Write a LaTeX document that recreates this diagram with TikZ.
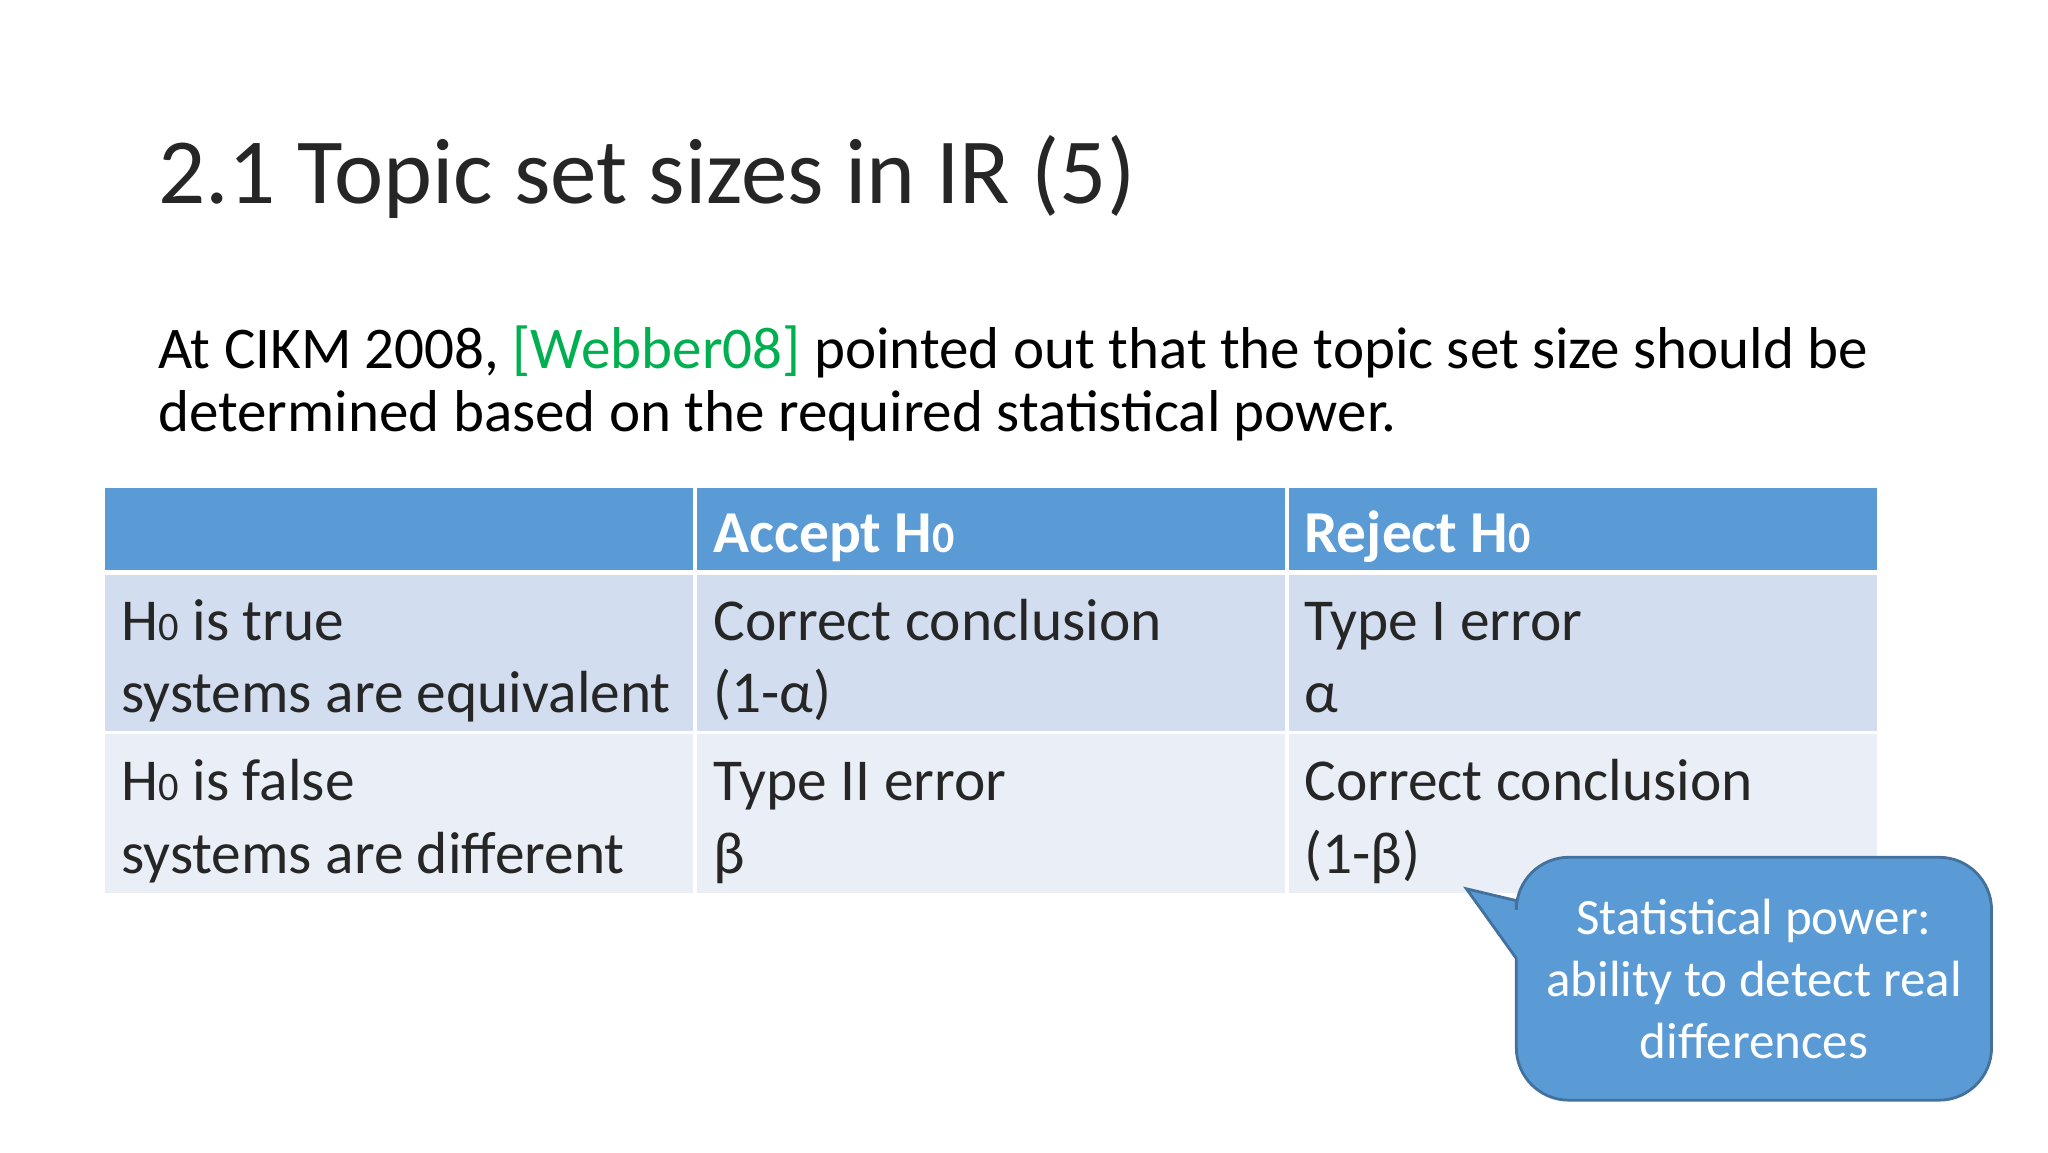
\documentclass[tikz,border=0pt]{standalone}
\usepackage{fontspec}
\setmainfont{Carlito}
\definecolor{hdr}{HTML}{5B9BD5}
\definecolor{rowa}{HTML}{D2DEEF}
\definecolor{rowb}{HTML}{EAEFF7}
\definecolor{cite}{HTML}{00B050}
\definecolor{cbord}{HTML}{41719C}
\newcommand{\Hz}{H{\fontsize{11.5}{12}\selectfont 0}}
\newcommand{\Hzb}{H{\fontsize{12.5}{13}\selectfont 0}}
\begin{document}
\begin{tikzpicture}[x=0.013128cm,y=-0.013128cm,
  txt/.style={anchor=base west,inner sep=0pt,font=\fontsize{16.9}{17}\selectfont,text=black!85},
  htxt/.style={anchor=base west,inner sep=0pt,font=\fontsize{16.9}{17}\selectfont\bfseries,text=white},
  ctxt/.style={anchor=base,inner sep=0pt,font=\fontsize{14.5}{15}\selectfont,text=white}]
\useasboundingbox[fill=white] (0,0) rectangle (1560,877.5);
\node[anchor=base west,inner sep=0pt,font=\fontsize{26.5}{27}\selectfont,text=black!85] (title) at (120,155) {2.1 Topic set sizes in IR (5)};
\node[anchor=base west,inner sep=0pt,font=\fontsize{16.8}{17}\selectfont] (b1) at (120,281) {At CIKM 2008, \textcolor{cite}{[Webber08]} pointed out that the topic set size should be};
\node[anchor=base west,inner sep=0pt,font=\fontsize{16.8}{17}\selectfont] (b2) at (120,329) {determined based on the required statistical power.};
% table
\fill[hdr] (80,372) rectangle (1430,436);
\fill[rowa] (80,436) rectangle (1430,558);
\fill[rowb] (80,558) rectangle (1430,680);
\draw[white,line width=1.2pt] (80,436) -- (1430,436);
\draw[white,line width=0.8pt] (80,558) -- (1430,558);
\draw[white,line width=1.2pt] (529.5,372) -- (529.5,680) (980.5,372) -- (980.5,680);
\node[htxt] (h1) at (543,421) {Accept \Hzb};
\node[htxt] (h2) at (993,421) {Reject \Hzb};
\node[txt] (a1) at (92,488) {\Hz{} is true};
\node[txt] (a2) at (92,543) {systems are equivalent};
\node[txt] (a3) at (543,488) {Correct conclusion};
\node[txt] (a4) at (543,543) {(1-α)};
\node[txt] (a5) at (993,488) {Type I error};
\node[txt] (a6) at (993,543) {α};
\node[txt] (c1) at (92,610) {\Hz{} is false};
\node[txt] (c2) at (92,665) {systems are different};
\node[txt] (c3) at (543,610) {Type II error};
\node[txt] (c4) at (543,665) {β};
\node[txt] (c5) at (993,610) {Correct conclusion};
\node[txt] (c6) at (993,665) {(1-β)};
% callout
\filldraw[fill=hdr,draw=cbord,line width=0.8pt]
  (1155,730) -- (1117,677) -- (1155,686) -- (1155,693)
  arc[start angle=180,end angle=270,radius=40] -- (1477,653)
  arc[start angle=270,end angle=360,radius=40] -- (1517,798)
  arc[start angle=0,end angle=90,radius=40] -- (1195,838)
  arc[start angle=90,end angle=180,radius=40] -- cycle;
\node[ctxt] (s1) at (1336,712) {Statistical power:};
\node[ctxt] (s2) at (1336,759) {ability to detect real};
\node[ctxt] (s3) at (1336,806) {differences};
\end{tikzpicture}
\end{document}
